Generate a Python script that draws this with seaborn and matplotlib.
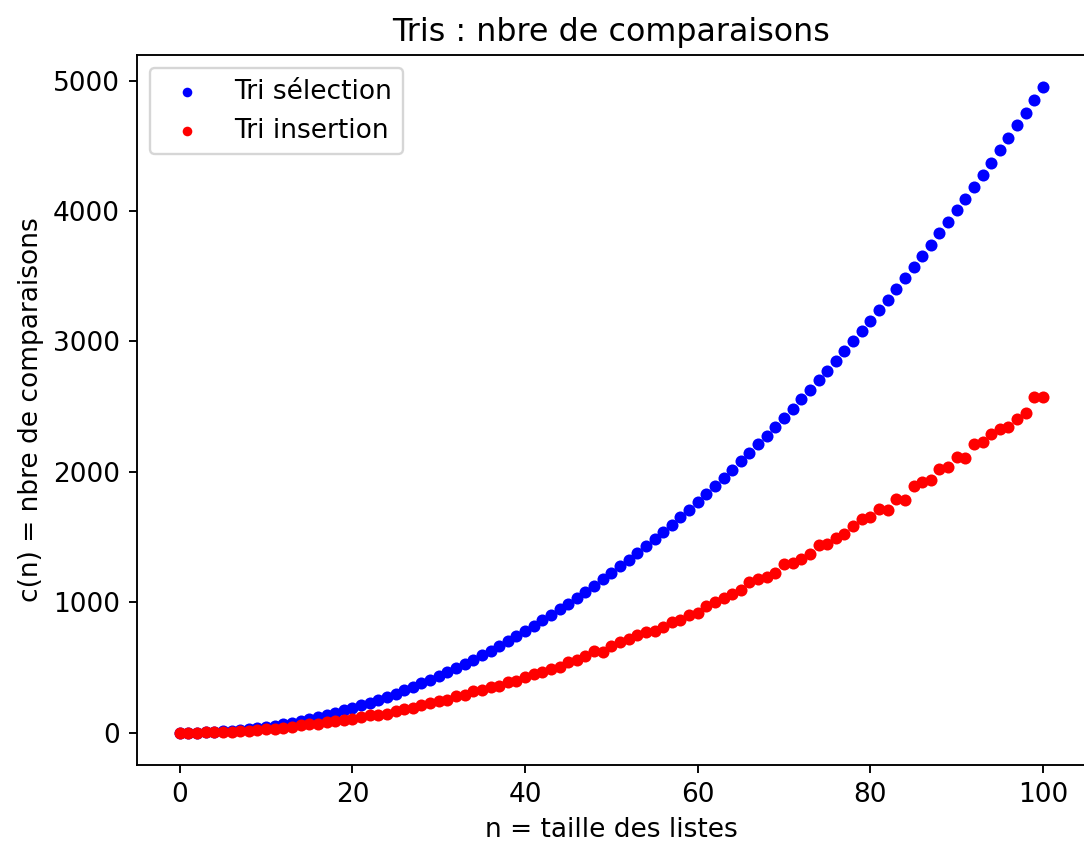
import matplotlib
matplotlib.use("Agg")
import matplotlib.pyplot as plt
import seaborn as sns

# taille des listes
n = list(range(101))

# nombre de comparaisons, tri par sélection
tri_selection = [0, 0, 1, 3, 6, 10, 15, 21, 28, 36, 45, 55, 66, 78, 91, 105, 120, 136, 153, 171,
                 190, 210, 231, 253, 276, 300, 325, 351, 378, 406, 435, 465, 496, 528, 561, 595,
                 630, 666, 703, 741, 780, 820, 861, 903, 946, 990, 1035, 1081, 1128, 1176, 1225,
                 1275, 1326, 1378, 1431, 1485, 1540, 1596, 1653, 1711, 1770, 1830, 1891, 1953,
                 2016, 2080, 2145, 2211, 2278, 2346, 2415, 2485, 2556, 2628, 2701, 2775, 2850,
                 2926, 3003, 3081, 3160, 3240, 3321, 3403, 3486, 3570, 3655, 3741, 3828, 3916,
                 4005, 4095, 4186, 4278, 4371, 4465, 4560, 4656, 4753, 4851, 4950]

# nombre de comparaisons, tri par insertion
tri_insertion = [0, 0, 1, 2, 3, 5, 8, 12, 15, 20, 25, 30, 38, 46, 59, 64, 69, 82, 90, 95,
                 102, 120, 133, 136, 146, 166, 179, 192, 212, 230, 243, 248, 280, 290, 317, 328,
                 348, 361, 392, 399, 425, 451, 463, 489, 507, 545, 558, 591, 624, 617, 663,
                 694, 720, 750, 770, 783, 814, 847, 868, 899, 919, 975, 1001, 1035, 1065, 1091,
                 1154, 1180, 1193, 1224, 1290, 1300, 1329, 1372, 1436, 1449, 1495, 1521, 1585,
                 1641, 1654, 1715, 1711, 1790, 1787, 1889, 1923, 1935, 2020, 2038, 2114, 2110,
                 2217, 2230, 2289, 2332, 2345, 2409, 2452, 2575, 2575]

plt.rcParams["font.size"] = 11.2

fig = plt.figure(figsize=(1084 / 170, 843 / 170), dpi=170)
ax = fig.add_axes([0.126, 0.0925, 0.876, 0.8425])

sns.scatterplot(x=n, y=tri_selection, color="blue", marker="o", s=26, linewidth=0,
                label="Tri sélection", ax=ax)
sns.scatterplot(x=n, y=tri_insertion, color="red", marker="o", s=26, linewidth=0,
                label="Tri insertion", ax=ax)

ax.set_title("Tris : nbre de comparaisons")
ax.set_xlabel("n = taille des listes")
ax.set_ylabel("c(n) = nbre de comparaisons")
ax.legend(loc="upper left", markerscale=0.8)

fig.savefig("out.png", dpi=170)
